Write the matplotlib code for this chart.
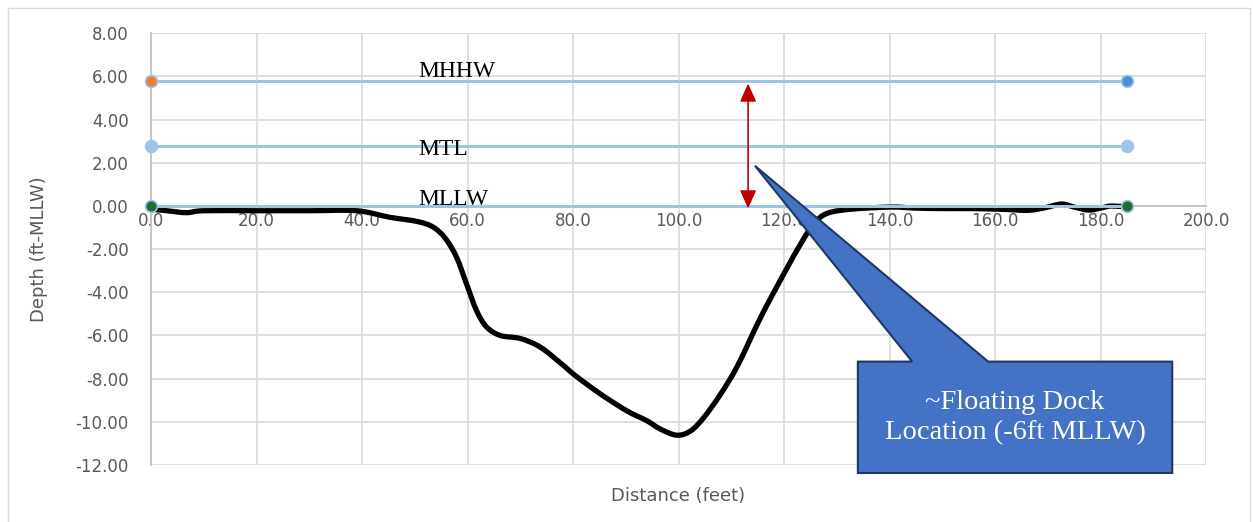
import matplotlib
matplotlib.use("Agg")
import matplotlib.pyplot as plt
from matplotlib.patches import Polygon, PathPatch
from matplotlib.path import Path
from matplotlib.lines import Line2D

# ---- data ----
profile_x = [0, 3, 6.7, 10, 20, 30, 39, 45.2, 50.5, 53.5, 55.8, 57.9, 59.8, 61.7, 63.6, 66.2,
             70, 73.8, 78, 80.4, 85.2, 90.2, 94, 96.6, 99.7, 102.3, 104.8, 108, 111.2,
             115.6, 120, 123.2, 125.7, 128.2, 132.7, 140.3, 145, 150, 155, 161, 166.3,
             169.5, 172.6, 175, 177.7, 180, 182.1, 185.3]
profile_y = [-0.15, -0.22, -0.31, -0.22, -0.22, -0.22, -0.22, -0.52, -0.72, -0.98, -1.5,
             -2.36, -3.6, -4.84, -5.6, -6.0, -6.14, -6.54, -7.35, -7.85, -8.71, -9.49,
             -9.95, -10.34, -10.62, -10.42, -9.8, -8.71, -7.4, -5.15, -3.13, -1.74, -0.81,
             -0.34, -0.15, -0.05, -0.1, -0.12, -0.12, -0.15, -0.2, -0.08, 0.09, -0.05,
             -0.19, -0.1, 0.0, -0.06]

tide_names = ["MHHW", "MTL", "MLLW"]
tide_levels = [5.78, 2.80, 0.0]
tide_x = [0, 185]
left_marker_colors = ["#ED7D31", "#9DC3E6", "#1E6E2E"]
right_marker_colors = ["#4A8FD8", "#9DC3E6", "#1E6E2E"]

x_ticks = [0, 20, 40, 60, 80, 100, 120, 140, 160, 180, 200]
y_ticks = [8, 6, 4, 2, 0, -2, -4, -6, -8, -10, -12]

label_x = 50.6
label_baselines = [5.96, 2.38, 0.06]

arrow_x = 113.2
arrow_top = 5.67
arrow_bottom = -0.11

callout_box = (134.0, 193.6, -7.21, -12.37)  # x0, x1, ytop, ybottom
callout_tip = (114.5, 1.86)
callout_base = (144.3, 158.7)
callout_text = "~Floating Dock\nLocation (-6ft MLLW)"

# ---- figure ----
fig = plt.figure(figsize=(12.53, 5.22), dpi=100)
ax = fig.add_axes([151 / 1253, 1 - 465 / 522, (1206 - 151) / 1253, (465 - 33.3) / 522])

grey_txt = "#595959"
ax.set_xlim(0, 200)
ax.set_ylim(-12, 8)
ax.set_xticks(x_ticks)
ax.set_yticks(y_ticks)
ax.set_xticklabels([f"{v:.1f}" for v in x_ticks])
ax.set_yticklabels([f"{v:.2f}" for v in y_ticks])
ax.grid(True, color="#D9D9D9", lw=1.2, zorder=0)
ax.set_axisbelow(True)
for s in ["top", "right"]:
    ax.spines[s].set_visible(False)
ax.spines["bottom"].set_position(("data", 0))
ax.spines["left"].set_position(("data", 0))
for s in ["bottom", "left"]:
    ax.spines[s].set_color("#BFBFBF")
    ax.spines[s].set_linewidth(1.2)
    ax.spines[s].set_zorder(1)
ax.tick_params(axis="both", length=0, labelsize=12, labelcolor=grey_txt)
ax.tick_params(axis="y", pad=16)
ax.tick_params(axis="x", pad=4)

# profile: smoothed line (Bezier segments through the read points, like Excel's smoothing)
n = len(profile_x)
verts = [(profile_x[0], profile_y[0])]
codes = [Path.MOVETO]
t = 1 / 6
for i in range(n - 1):
    p0 = (profile_x[max(i - 1, 0)], profile_y[max(i - 1, 0)])
    p1 = (profile_x[i], profile_y[i])
    p2 = (profile_x[i + 1], profile_y[i + 1])
    p3 = (profile_x[min(i + 2, n - 1)], profile_y[min(i + 2, n - 1)])
    c1 = (p1[0] + (p2[0] - p0[0]) * t, p1[1] + (p2[1] - p0[1]) * t)
    c2 = (p2[0] - (p3[0] - p1[0]) * t, p2[1] - (p3[1] - p1[1]) * t)
    verts += [c1, c2, p2]
    codes += [Path.CURVE4] * 3
ax.add_patch(PathPatch(Path(verts, codes), facecolor="none", edgecolor="black", lw=3.8,
                       capstyle="round", joinstyle="round", zorder=3))

# tide lines
for lvl, lc, rc in zip(tide_levels, left_marker_colors, right_marker_colors):
    ax.plot(tide_x, [lvl, lvl], color="#9DC3E6", lw=2.2, zorder=4)
    ax.plot([tide_x[0]], [lvl], "o", ms=8.5, mfc=lc, mec="#9DC3E6", mew=1.2, zorder=5, clip_on=False)
    ax.plot([tide_x[1]], [lvl], "o", ms=8.5, mfc=rc, mec="#9DC3E6", mew=1.2, zorder=5, clip_on=False)

for name, yb in zip(tide_names, label_baselines):
    ax.text(label_x, yb, name, family="Liberation Serif", fontsize=17, color="black",
            ha="left", va="baseline", zorder=6)

# red double arrow
ax.annotate("", xy=(arrow_x, arrow_top), xytext=(arrow_x, arrow_bottom),
            arrowprops=dict(arrowstyle="<|-|>,head_length=1.1,head_width=0.5",
                            mutation_scale=10, color="#C00000", lw=1.2,
                            shrinkA=0, shrinkB=0), zorder=6)

# callout
x0, x1, yt, yb = callout_box
poly = [(x0, yt), (callout_base[0], yt), callout_tip, (callout_base[1], yt), (x1, yt),
        (x1, yb), (x0, yb)]
ax.add_patch(Polygon(poly, closed=True, facecolor="#4472C4", edgecolor="#1F3864",
                     lw=1.5, zorder=7, clip_on=False))
ax.text((x0 + x1) / 2, (yt + yb) / 2, callout_text, family="Liberation Serif",
        fontsize=20.5, color="white", ha="center", va="center", linespacing=1.25, zorder=8)

ax.set_xlabel("Distance (feet)", fontsize=13, color=grey_txt)
ax.set_ylabel("Depth (ft-MLLW)", fontsize=13, color=grey_txt)
ax.xaxis.set_label_coords(0.5, -0.05)
ax.yaxis.set_label_coords(-0.098, 0.5)

# outer border
bc = "#D9D9D9"
fx0, fy1, fx1 = 8 / 1253, 1 - 8 / 522, 1250 / 1253
fig.add_artist(Line2D([fx0, fx0], [0, fy1], color=bc, lw=1))
fig.add_artist(Line2D([fx0, fx1], [fy1, fy1], color=bc, lw=1))
fig.add_artist(Line2D([fx1, fx1], [0, fy1], color=bc, lw=1))

fig.savefig("out.png", dpi=100)
